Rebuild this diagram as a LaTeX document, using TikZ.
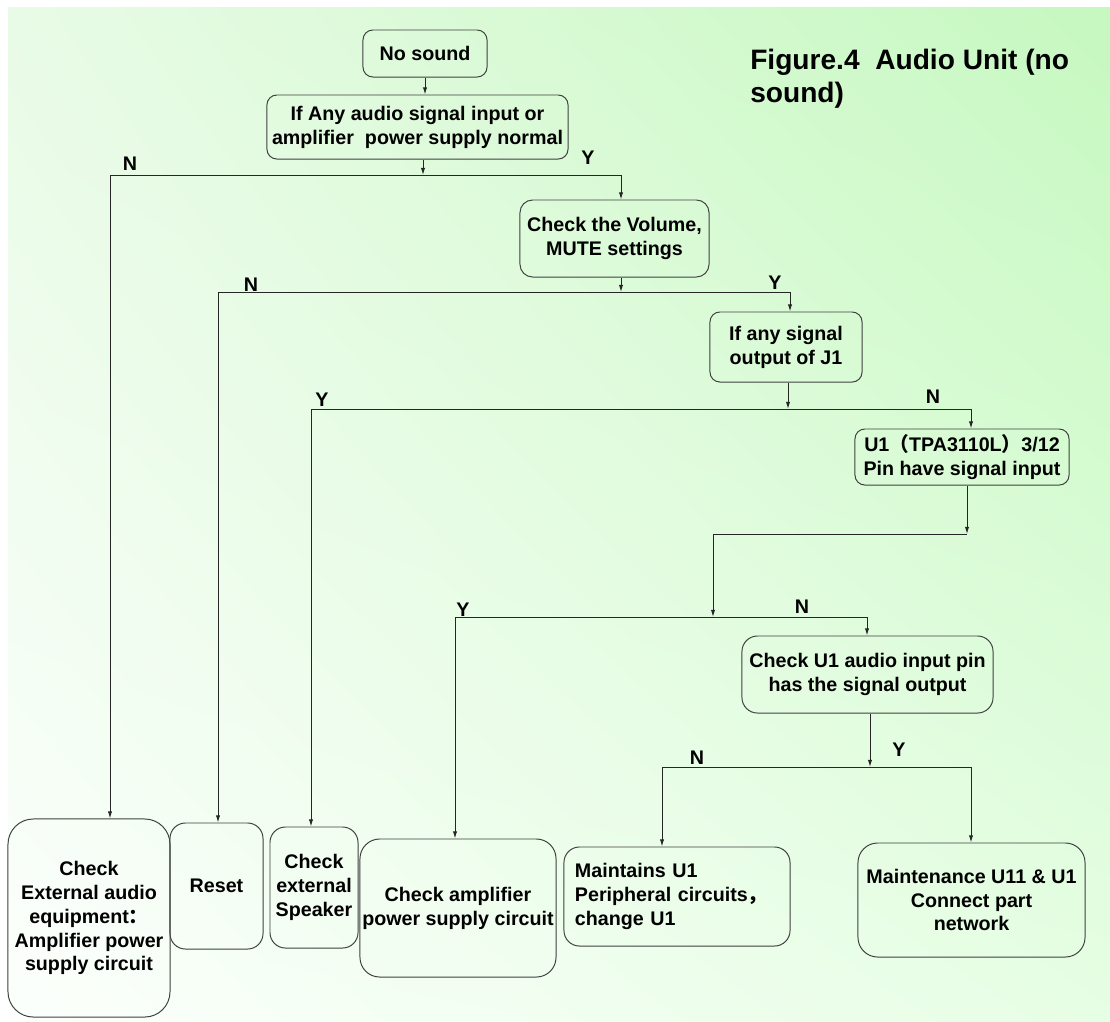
\documentclass[tikz,border=0pt]{standalone}
\usepackage{fontspec}
\setmainfont{Liberation Sans}
\newfontfamily\cjk{Noto Sans CJK SC}
\usetikzlibrary{arrows.meta,shadings}
\definecolor{bgul}{RGB}{232,251,230}
\definecolor{bgur}{RGB}{198,248,192}
\definecolor{bgll}{RGB}{252,255,252}
\definecolor{bglr}{RGB}{230,254,228}
\begin{document}
\begin{tikzpicture}[x=0.025cm, y=-0.025cm, every node/.style={font=\fontsize{14}{17}\selectfont\bfseries},
  blk/.style={draw=black!75,line width=0.7pt,rounded corners=7pt,align=center,inner sep=1pt},
  yn/.style={inner sep=0pt},
  ln/.style={black!85,line width=0.7pt},
  arr/.style={ln,-{Latex[length=5pt,width=3pt]}}]
  \useasboundingbox (0,0) rectangle (1110,1021);
  \shade[upper left=bgul, upper right=bgur, lower left=bgll, lower right=bglr] (8,7) rectangle (1110,1021);
  % decision chain
  \node[blk,minimum width=3.1cm,minimum height=1.175cm] (nosound) at (425,53.5) {No sound};
  \node[blk,minimum width=7.525cm,minimum height=1.6cm] (ifany) at (417.5,127) {If Any audio signal input or\\amplifier\ \ power supply normal};
  \node[blk,minimum width=4.725cm,minimum height=1.925cm,rounded corners=9pt] (volume) at (614.5,238.5) {Check the Volume,\\MUTE settings};
  \node[blk,minimum width=3.8cm,minimum height=1.75cm] (anysig) at (786,347) {If any signal\\output of J1};
  \node[blk,minimum width=5.35cm,minimum height=1.4cm] (u1) at (962,457) {U1{\cjk （}TPA3110L{\cjk ）}3/12\\Pin have signal input};
  \node[blk,minimum width=6.275cm,minimum height=1.925cm,rounded corners=11pt] (chku1) at (867.5,674.5) {Check U1 audio input pin\\has the signal output};
  % end boxes
  \node[blk,minimum width=4.05cm,minimum height=4.95cm,rounded corners=18pt] (extaudio) at (89,918) {Check\\External audio\\equipment{\cjk ：}\\Amplifier power\\supply circuit};
  \node[blk,minimum width=2.325cm,minimum height=3.15cm,rounded corners=11pt] (reset) at (216.5,886) {Reset};
  \node[blk,minimum width=2.2cm,minimum height=3.025cm,rounded corners=11pt] (speaker) at (314,887.5) {Check\\external\\Speaker};
  \node[blk,minimum width=4.9cm,minimum height=3.45cm,rounded corners=14pt] (amp) at (458,908) {Check amplifier\\power supply circuit};
  \node[blk,minimum height=2.475cm,text width=5.1cm,inner xsep=0.275cm,align=left,rounded corners=11pt] (maintu1) at (677,896.5) {Maintains U1\\Peripheral circuits{\cjk ，}\\change U1};
  \node[blk,minimum width=5.675cm,minimum height=2.85cm,rounded corners=14pt] (mainten) at (971.5,900) {Maintenance U11 \& U1\\Connect part\\network};
  \node[font=\fontsize{20}{23.5}\selectfont\bfseries,align=left,anchor=north west,inner sep=0pt] (title) at (750,49) {Figure.4\ \ Audio Unit (no\\sound)};
  % Y / N labels
  \node[yn] (n1) at (130,164) {N}; \node[yn] (y1) at (588,158) {Y};
  \node[yn] (n2) at (251,285) {N}; \node[yn] (y2) at (775,283) {Y};
  \node[yn] (y3) at (322,400) {Y}; \node[yn] (n3) at (933,397) {N};
  \node[yn] (y4) at (463,610) {Y}; \node[yn] (n4) at (802,607) {N};
  \node[yn] (n5) at (697,758) {N}; \node[yn] (y5) at (899,750) {Y};
  % branch points
  \coordinate (b1) at (423,175); \coordinate (l1) at (110,175); \coordinate (r1) at (621,175);
  \coordinate (b2) at (621,292); \coordinate (l2) at (218,292); \coordinate (r2) at (790,292);
  \coordinate (b3) at (788,409); \coordinate (l3) at (311,409); \coordinate (r3) at (971,409);
  \coordinate (j1) at (967,534);
  \coordinate (b4) at (713,617); \coordinate (l4) at (455,617); \coordinate (r4) at (867,617);
  \coordinate (b5) at (870,767); \coordinate (l5) at (662,767); \coordinate (r5) at (971,767);
  % connectors
  \draw[arr] (nosound.south) -- (nosound.south |- ifany.north);
  \draw[arr] (ifany.south -| b1) -- (b1); \draw[ln] (l1) -- (r1);
  \draw[arr] (l1) -- (extaudio.north -| l1); \draw[arr] (r1) -- (volume.north -| r1);
  \draw[arr] (volume.south -| b2) -- (b2); \draw[ln] (l2) -- (r2);
  \draw[arr] (l2) -- (reset.north -| l2); \draw[arr] (r2) -- (anysig.north -| r2);
  \draw[arr] (anysig.south -| b3) -- (b3); \draw[ln] (l3) -- (r3);
  \draw[arr] (l3) -- (speaker.north -| l3); \draw[arr] (r3) -- (u1.north -| r3);
  \draw[arr] (u1.south -| j1) -- (j1); \draw[arr] (j1) -| (b4); \draw[ln] (l4) -- (r4);
  \draw[arr] (l4) -- (amp.north -| l4); \draw[arr] (r4) -- (chku1.north -| r4);
  \draw[arr] (chku1.south -| b5) -- (b5); \draw[ln] (l5) -- (r5);
  \draw[arr] (l5) -- (maintu1.north -| l5); \draw[arr] (r5) -- (mainten.north -| r5);
\end{tikzpicture}
\end{document}
